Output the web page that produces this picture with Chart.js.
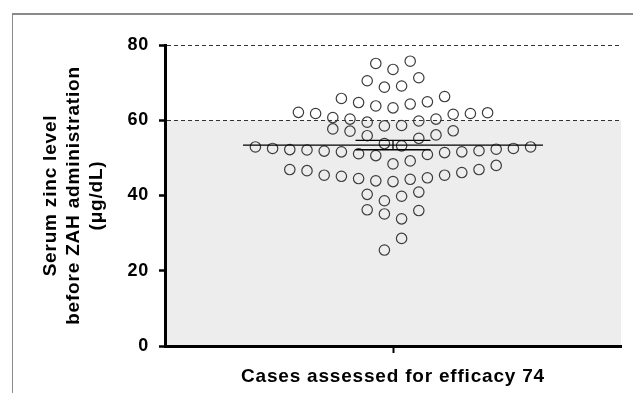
<!DOCTYPE html>
<html><head><meta charset="utf-8">
<script src="https://cdn.jsdelivr.net/npm/chart.js@4/dist/chart.umd.min.js"></script>
<style>
html,body{margin:0;padding:0;background:#fff;width:633px;height:393px;overflow:hidden}
#frame{position:absolute;left:12px;top:13px;width:640px;height:400px;border-left:1.5px solid #8a8a8a;border-top:2px solid #8a8a8a}
#wrap{position:absolute;left:0;top:0;width:633px;height:393px}
</style></head><body>
<div id="frame"></div>
<div id="wrap"><canvas id="c" width="633" height="393"></canvas></div>
<script>
// ---- data ----
const categories = ['Cases assessed for efficacy 74'];
const yTickValues = [0, 20, 40, 60, 80];
const dashedLevels = [60, 80];
const shadedUpTo = [60];
const yTitleLines = ['Serum zinc level', 'before ZAH administration', '(\u03bcg/dL)'];
// serum zinc values (µg/dL), listed swarm row by row (top to bottom), left to right
const zincValues = [
  75.1, 73.5, 75.7,
  70.5, 68.8, 69.1, 71.3,
  65.8, 64.7, 63.8, 63.3, 64.3, 64.9, 66.3,
  62.1, 61.8, 60.7, 60.3, 59.5, 58.5, 58.6, 59.8, 60.3, 61.6, 61.8, 62.0,
  57.7, 57.1, 55.9, 53.8, 53.2, 55.2, 56.1, 57.2,
  52.9, 52.5, 52.2, 52.1, 51.8, 51.6, 51.1, 50.6, 48.4, 49.2, 50.9, 51.4, 51.6, 51.9, 52.3, 52.5, 52.9,
  46.9, 46.6, 45.4, 45.1, 44.5, 43.9, 43.7, 44.3, 44.7, 45.4, 46.1, 46.9, 48.0,
  40.3, 38.6, 39.8, 40.9,
  36.2, 35.1, 33.8, 36.0,
  25.5, 28.6
];
const swarmRowSizes = [3, 4, 7, 12, 8, 17, 13, 4, 4, 2];

// ---- layout / style ----
const FONT = "'Liberation Sans', Arial, sans-serif";
const SPACING = 17.2;      // horizontal swarm step (x units)
const XHALF = 228;         // x range half-width
const MEAN_HALF = 150, SEM_HALF = 37.5;

const points = [];
let k = 0;
swarmRowSizes.forEach(n => {
  for (let i = 0; i < n; i++) points.push({x: (i - (n - 1) / 2) * SPACING, y: zincValues[k++]});
});
const N = zincValues.length;
const mean = zincValues.reduce((a, b) => a + b, 0) / N;
const sd = Math.sqrt(zincValues.reduce((a, b) => a + (b - mean) ** 2, 0) / (N - 1));
const sem = sd / Math.sqrt(N);

const shade = {
  id: 'shade',
  beforeDraw(chart) {
    const {ctx, chartArea: a, scales: {y}} = chart;
    ctx.letterSpacing = '0.8px';
    const top = y.getPixelForValue(shadedUpTo[0]);
    const bot = y.getPixelForValue(0);
    ctx.save();
    ctx.fillStyle = '#ecedec';
    ctx.fillRect(a.left, top, a.right - a.left, bot - top);
    ctx.restore();
  }
};

const lineDs = (data) => ({
  data, showLine: true, borderColor: '#000', borderWidth: 1.3, pointRadius: 0, fill: false, order: 0
});

new Chart(document.getElementById('c'), {
  type: 'scatter',
  data: {
    datasets: [
      lineDs([{x: -MEAN_HALF, y: mean}, {x: MEAN_HALF, y: mean}]),
      lineDs([{x: -SEM_HALF, y: mean + sem}, {x: SEM_HALF, y: mean + sem}]),
      lineDs([{x: -SEM_HALF, y: mean - sem}, {x: SEM_HALF, y: mean - sem}]),
      lineDs([{x: 0, y: mean - sem}, {x: 0, y: mean + sem}]),
      {
        label: categories[0], data: points, pointStyle: 'circle', pointRadius: 5.2,
        borderColor: '#3c3c3c', borderWidth: 1.2, backgroundColor: 'rgba(0,0,0,0)', order: 5
      }
    ]
  },
  options: {
    responsive: false, animation: false, events: [], devicePixelRatio: 1,
    layout: {padding: {left: 0, right: 12, top: 45, bottom: 0}},
    plugins: {legend: {display: false}, tooltip: {enabled: false}},
    scales: {
      x: {
        type: 'linear', min: -XHALF, max: XHALF,
        afterBuildTicks: s => { s.ticks = [{value: 0}]; },
        afterFit: s => { s.height = 47; },
        ticks: {display: false},
        grid: {drawOnChartArea: false, drawTicks: true, tickLength: 7, tickColor: '#000', tickWidth: 2, color: '#000'},
        border: {display: true, color: '#000', width: 3},
        title: {display: true, text: categories[0], color: '#000',
          font: {family: FONT, size: 19, weight: 'bold', lineHeight: 1.2}, padding: {top: 0, bottom: 5}}
      },
      y: {
        type: 'linear', min: 0, max: 80,
        afterBuildTicks: s => { s.ticks = yTickValues.map(v => ({value: v})); },
        afterFit: s => { s.width = 165; },
        ticks: {font: {family: FONT, size: 18, weight: 'bold'}, color: '#000', padding: 10},
        grid: {
          drawOnChartArea: true,
          color: c => (c.tick && dashedLevels.includes(c.tick.value)) ? '#333' : 'rgba(0,0,0,0)',
          lineWidth: 1, tickLength: 6, tickColor: '#000', tickWidth: 2.5
        },
        border: {display: true, color: '#000', width: 3, dash: [4, 3]},
        title: {display: true, text: yTitleLines, color: '#000',
          font: {family: FONT, size: 19, weight: 'bold', lineHeight: 1.22}, padding: {top: 39, bottom: 0}}
      }
    }
  },
  plugins: [shade]
});
</script>
</body></html>
